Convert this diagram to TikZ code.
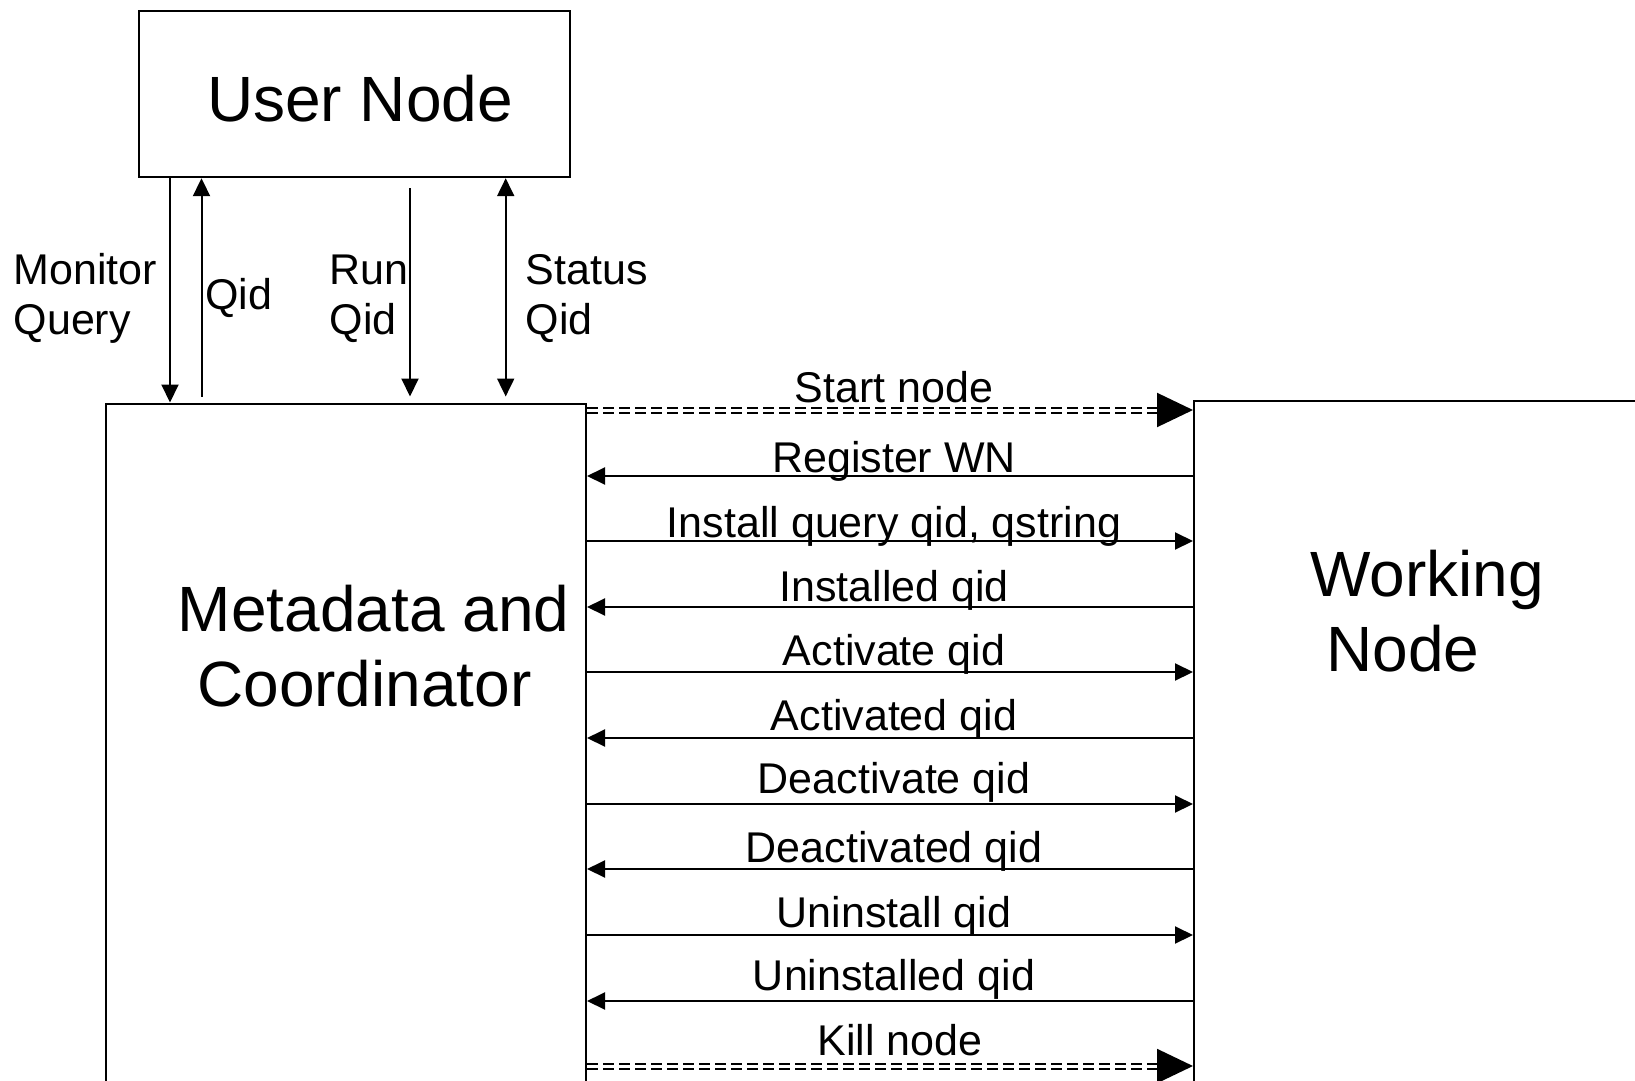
\documentclass[tikz,border=0pt]{standalone}
\usepackage{fontspec}
\setmainfont{Liberation Sans}
\usetikzlibrary{arrows.meta}
\begin{document}
\begin{tikzpicture}[x=1pt,y=-1pt,
  box/.style={draw, line width=2pt, inner sep=0pt, anchor=north west},
  arr/.style={line width=2pt, -{Triangle[length=18pt,width=17pt]}},
  dbl/.style={line width=2pt, double=white, double distance=3pt, dash pattern=on 11pt off 5pt},
  bigtip/.style={line width=2pt, -{Triangle[length=36pt,width=34pt]}},
  lab/.style={font=\fontsize{43}{50}\selectfont, inner sep=0pt, anchor=base},
  labw/.style={font=\fontsize{43}{50}\selectfont, inner sep=0pt, anchor=base west},
  big/.style={font=\fontsize{64}{75}\selectfont, inner sep=0pt, anchor=base}
]
\useasboundingbox (0,0) rectangle (1635,1081);
\clip (0,0) rectangle (1635,1081);

% boxes
\node[box, minimum width=431.7pt, minimum height=165.8pt] (user) at (137.6,10.4) {};
\node[box, minimum width=479.7pt, minimum height=720pt] (mc) at (105.3,402.5) {};
\node[box, minimum width=600pt, minimum height=720pt] (wn) at (1193,399.5) {};

% box texts
\node[big] (tuser) at (360,121) {User Node};
\node[big] (tmc1) at (373.6,631) {Metadata and};
\node[big] (tmc2) at (364.5,706) {Coordinator};
\node[big] (twn1) at (1427,596) {Working};
\node[big] (twn2) at (1403,671.5) {Node};

% vertical connector x positions
\coordinate (v1) at (170,0);
\coordinate (v2) at (201.5,0);
\coordinate (v3) at (410,0);
\coordinate (v4) at (505.7,0);

\draw[arr] (user.south -| v1) -- (mc.north -| v1);
\draw[arr] ([yshift=6pt]mc.north -| v2) -- (user.south -| v2);
\draw[arr] ([yshift=-10pt]user.south -| v3) -- ([yshift=6pt]mc.north -| v3);
\draw[line width=2pt, {Triangle[length=18pt,width=17pt]}-{Triangle[length=18pt,width=17pt]}]
  (user.south -| v4) -- ([yshift=6pt]mc.north -| v4);

% vertical labels
\node[labw] (lmon1) at (13.5,284) {Monitor};
\node[labw] (lmon2) at (13.5,334) {Query};
\node[labw] (lqid) at (205,309) {Qid};
\node[labw] (lrun1) at (329.5,284) {Run};
\node[labw] (lrun2) at (329.5,334) {Qid};
\node[labw] (lsta1) at (525.5,284) {Status};
\node[labw] (lsta2) at (525.5,334) {Qid};

% horizontal rows
\coordinate (r0) at (0,410);
\coordinate (r1) at (0,476);
\coordinate (r2) at (0,541);
\coordinate (r3) at (0,607);
\coordinate (r4) at (0,672);
\coordinate (r5) at (0,738);
\coordinate (r6) at (0,804);
\coordinate (r7) at (0,869);
\coordinate (r8) at (0,935);
\coordinate (r9) at (0,1001);
\coordinate (r10) at (0,1066);
\coordinate (d0) at (1160,410);
\coordinate (d10) at (1160,1066);

\draw[dbl] (mc.east |- r0) -- (d0);
\draw[bigtip] (d0) -- (wn.west |- r0);
\draw[arr] (wn.west |- r1) -- (mc.east |- r1);
\draw[arr] (mc.east |- r2) -- (wn.west |- r2);
\draw[arr] (wn.west |- r3) -- (mc.east |- r3);
\draw[arr] (mc.east |- r4) -- (wn.west |- r4);
\draw[arr] (wn.west |- r5) -- (mc.east |- r5);
\draw[arr] (mc.east |- r6) -- (wn.west |- r6);
\draw[arr] (wn.west |- r7) -- (mc.east |- r7);
\draw[arr] (mc.east |- r8) -- (wn.west |- r8);
\draw[arr] (wn.west |- r9) -- (mc.east |- r9);
\draw[dbl] (mc.east |- r10) -- (d10);
\draw[bigtip] (d10) -- (wn.west |- r10);

% horizontal labels
\node[lab] (h0) at (894,402.5) {Start node};
\node[lab] (h1) at (894,472) {Register WN};
\node[lab] (h2) at (894,537) {Install query qid, qstring};
\node[lab] (h3) at (894,601.6) {Installed qid};
\node[lab] (h4) at (894,665) {Activate qid};
\node[lab] (h5) at (894,730) {Activated qid};
\node[lab] (h6) at (894,793.5) {Deactivate qid};
\node[lab] (h7) at (894,862) {Deactivated qid};
\node[lab] (h8) at (894,927) {Uninstall qid};
\node[lab] (h9) at (894,990.6) {Uninstalled qid};
\node[lab] (h10) at (900,1055) {Kill node};
\end{tikzpicture}
\end{document}
